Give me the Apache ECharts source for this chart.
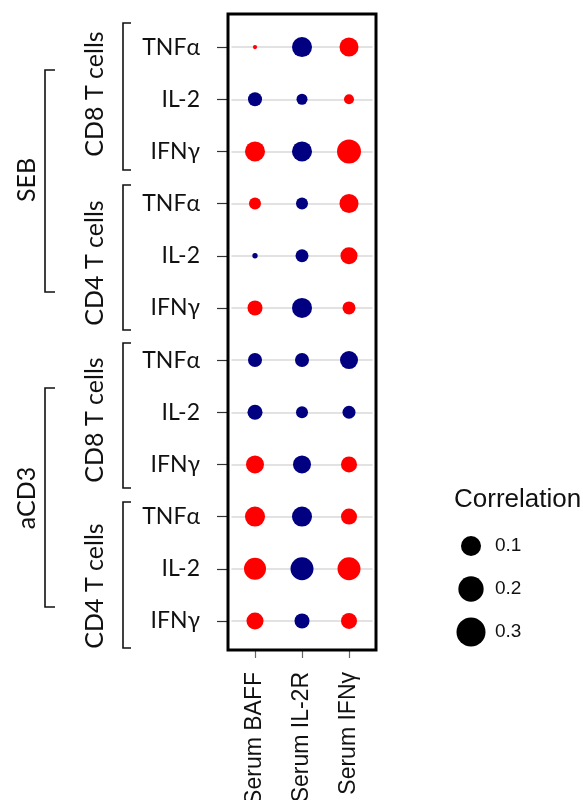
<!DOCTYPE html>
<html><head><meta charset="utf-8">
<script src="https://cdn.jsdelivr.net/npm/echarts@6/dist/echarts.min.js"></script>
<style>html,body{margin:0;padding:0;background:#fff}#c{width:583px;height:800px}</style>
</head><body><div id="c"></div>
<script>
// ---- data ----
const columns = ['Serum BAFF', 'Serum IL-2R', 'Serum IFNγ'];
const rowIds = ['r0','r1','r2','r3','r4','r5','r6','r7','r8','r9','r10','r11'];
const rowLabels = ['TNFα','IL-2','IFNγ','TNFα','IL-2','IFNγ','TNFα','IL-2','IFNγ','TNFα','IL-2','IFNγ'];
// correlation values (positive = red, negative = blue), rows top to bottom
const corrBAFF = [0.001, -0.035, 0.10, 0.022, -0.002, 0.043, -0.035, -0.043, 0.073, 0.10, 0.132, 0.062];
const corrIL2R = [-0.10, -0.017, -0.10, -0.022, -0.028, -0.10, -0.035, -0.022, -0.073, -0.10, -0.15, -0.043];
const corrIFNg = [0.086, 0.013, 0.17, 0.086, 0.062, 0.028, -0.073, -0.028, 0.052, 0.052, 0.15, 0.052];
const legendValues = [0.1, 0.2, 0.3];
const legendLabels = ['0.1', '0.2', '0.3'];
const cellGroups = ['CD8 T cells','CD4 T cells','CD8 T cells','CD4 T cells'];
const stimGroups = ['SEB','aCD3'];

// ---- build ----
const seriesCols = [corrBAFF, corrIL2R, corrIFNg];
const points = [];
seriesCols.forEach((arr, j) => arr.forEach((v, i) => points.push([columns[j], rowIds[i], v])));
const sizeOf = v => 43.6 * Math.pow(Math.abs(v), 0.338);
const RED = '#ff0000', BLUE = '#000080';
const leftFont = 'Lato';
const chart = echarts.init(document.getElementById('c'), null, {renderer: 'canvas'});

// annotation geometry (styling)
const brackets = [
  {x: 123, hook: 8, y1: 23, y2: 170}, {x: 123, hook: 8, y1: 185, y2: 330},
  {x: 123, hook: 8, y1: 343, y2: 488}, {x: 123, hook: 8, y1: 502, y2: 648},
  {x: 45, hook: 10, y1: 70, y2: 292}, {x: 45, hook: 10, y1: 388, y2: 607}
];
const cellLabelPos = [[95, 94], [95, 263], [95, 420], [95, 586]];
const stimLabelPos = [[27, 180], [27, 498]];

const graphics = [];
brackets.forEach(b => graphics.push({
  type: 'polyline', silent: true,
  shape: {points: [[b.x + b.hook, b.y1], [b.x, b.y1], [b.x, b.y2], [b.x + b.hook, b.y2]]},
  style: {stroke: '#111', lineWidth: 1.6, fill: null}
}));
cellGroups.forEach((t, i) => graphics.push({
  type: 'text', x: cellLabelPos[i][0], y: cellLabelPos[i][1], rotation: Math.PI / 2, silent: true,
  style: {text: t, font: '25px ' + leftFont, fill: '#111', align: 'center', verticalAlign: 'middle'}
}));
stimGroups.forEach((t, i) => graphics.push({
  type: 'text', x: stimLabelPos[i][0], y: stimLabelPos[i][1], rotation: Math.PI / 2, silent: true,
  style: {text: t, font: '25px ' + leftFont, fill: '#111', align: 'center', verticalAlign: 'middle'}
}));

chart.setOption({
  animation: false,
  backgroundColor: '#fff',
  title: {text: 'Correlation', left: 449, top: 482,
    textStyle: {fontFamily: 'Liberation Sans', fontSize: 26, fontWeight: 'normal', color: '#111'}},
  grid: [
    {left: 231.5, top: 21, width: 141, height: 626, outerBoundsMode: 'none', containLabel: false},
    {left: 228, top: 14, width: 148, height: 636, show: true, borderColor: '#000', borderWidth: 3, backgroundColor: 'transparent', z: 5, outerBoundsMode: 'none', containLabel: false},
    {left: 461, top: 524.5, width: 20, height: 129, outerBoundsMode: 'none', containLabel: false}
  ],
  xAxis: [
    {gridIndex: 0, type: 'category', data: columns, offset: 3,
      axisLine: {show: false},
      axisTick: {show: true, length: 8, lineStyle: {color: '#666', width: 1.2}, alignWithLabel: true},
      axisLabel: {rotate: 90, margin: 22, fontFamily: 'Liberation Sans', fontSize: 23, color: '#111', interval: 0},
      splitLine: {show: false}},
    {gridIndex: 1, type: 'value', show: false},
    {gridIndex: 2, type: 'value', min: -1, max: 1, show: false}
  ],
  yAxis: [
    {gridIndex: 0, type: 'category', data: rowIds, inverse: true, offset: 3.5,
      axisLine: {show: false},
      axisTick: {show: true, length: 11, lineStyle: {color: '#333', width: 1.2}, alignWithLabel: true},
      axisLabel: {margin: 28, fontFamily: leftFont, fontSize: 23, color: '#111', interval: 0,
        formatter: (v, idx) => rowLabels[idx]},
      splitLine: {show: false}},
    {gridIndex: 1, type: 'value', show: false},
    {gridIndex: 2, type: 'category', data: legendLabels, inverse: true, position: 'right',
      axisLine: {show: false}, axisTick: {show: false},
      axisLabel: {margin: 14, fontFamily: 'Liberation Sans', fontSize: 19, color: '#111'}}
  ],
  series: [
    {type: 'scatter', xAxisIndex: 0, yAxisIndex: 0, data: points, z: 3,
      symbolSize: d => sizeOf(d[2]),
      itemStyle: {color: p => p.data[2] >= 0 ? RED : BLUE, opacity: 1},
      markLine: {silent: true, symbol: 'none', label: {show: false}, z: 1,
        lineStyle: {color: '#e2e2e2', width: 2, type: 'solid'},
        data: rowIds.map(r => ({yAxis: r}))}},
    {type: 'scatter', xAxisIndex: 2, yAxisIndex: 2,
      data: legendValues.map((v, i) => [0, legendLabels[i], v]),
      symbolSize: d => sizeOf(d[2]), itemStyle: {color: '#000', opacity: 1}}
  ],
  graphic: graphics
});
</script></body></html>
